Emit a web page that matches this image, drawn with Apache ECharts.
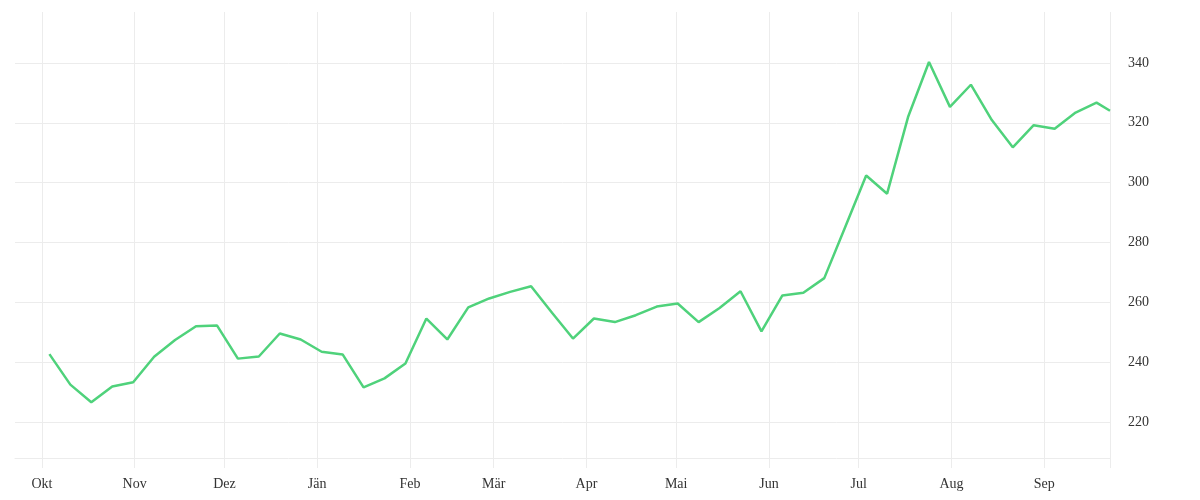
<!DOCTYPE html>
<html>
<head>
<meta charset="utf-8">
<script src="https://cdn.jsdelivr.net/npm/echarts@6/dist/echarts.min.js"></script>
<style>
  html, body { margin: 0; padding: 0; background: #ffffff; }
  #chart { width: 1200px; height: 500px; }
</style>
</head>
<body>
<div id="chart"></div>
<script>
const dates = [
  '2022-10-03','2022-10-10','2022-10-17','2022-10-24','2022-10-31',
  '2022-11-07','2022-11-14','2022-11-21','2022-11-28',
  '2022-12-05','2022-12-12','2022-12-19','2022-12-26',
  '2023-01-02','2023-01-09','2023-01-16','2023-01-23','2023-01-30',
  '2023-02-06','2023-02-13','2023-02-20','2023-02-27',
  '2023-03-06','2023-03-13','2023-03-20','2023-03-27',
  '2023-04-03','2023-04-10','2023-04-17','2023-04-24',
  '2023-05-01','2023-05-08','2023-05-15','2023-05-22','2023-05-29',
  '2023-06-05','2023-06-12','2023-06-19','2023-06-26',
  '2023-07-03','2023-07-10','2023-07-17','2023-07-24','2023-07-31',
  '2023-08-07','2023-08-14','2023-08-21','2023-08-28',
  '2023-09-04','2023-09-11','2023-09-18','2023-09-23'
];
const values = [
  242.7, 232.5, 226.6, 231.9, 233.3,
  241.8, 247.4, 252.0, 252.3,
  241.2, 241.9, 249.6, 247.6,
  243.5, 242.6, 231.6, 234.6, 239.6,
  254.6, 247.6, 258.3, 261.3,
  263.5, 265.4, 256.5, 247.9,
  254.6, 253.4, 255.7, 258.6,
  259.6, 253.4, 258.1, 263.7, 250.3,
  262.3, 263.2, 268.1, 285.2,
  302.4, 296.3, 321.9, 340.3, 325.3,
  332.7, 320.9, 311.8, 319.2,
  318.0, 323.4, 326.7, 324.0
];
const monthNames = ['Jän','Feb','Mär','Apr','Mai','Jun','Jul','Aug','Sep','Okt','Nov','Dez'];
const monthTicks = [
  '2022-10-01','2022-11-01','2022-12-01','2023-01-01','2023-02-01','2023-03-01',
  '2023-04-01','2023-05-01','2023-06-01','2023-07-01','2023-08-01','2023-09-01'
];
const yTicks = [220, 240, 260, 280, 300, 320, 340];
const xMin = '2022-09-22';
const xMax = '2023-09-23';
const yMin = 208;
const yMax = 357;

function toTs(s) {
  const p = s.split('-').map(Number);
  return new Date(p[0], p[1] - 1, p[2]).getTime();
}
const halfDay = 12 * 3600 * 1000;
const lastIdx = dates.length - 1;
const seriesData = dates.map((d, i) => [toTs(d) + (i < lastIdx ? halfDay : 0), values[i]]);
const monthTs = monthTicks.map(toTs);
const xMinTs = toTs(xMin);
const xMaxTs = toTs(xMax);

const gridColor = '#ececec';
const textStyle = { color: '#333', fontFamily: 'Liberation Serif', fontSize: 14 };

const chart = echarts.init(document.getElementById('chart'));
chart.setOption({
  animation: false,
  backgroundColor: '#ffffff',
  grid: { left: 15, right: 90, top: 12, bottom: 42, containLabel: false, outerBoundsMode: 'none' },
  xAxis: {
    type: 'value',
    min: xMinTs,
    max: xMaxTs,
    axisLine: { show: true, onZero: false, lineStyle: { color: gridColor, width: 1 } },
    axisTick: { show: true, length: 10, customValues: monthTs.concat([xMaxTs]), lineStyle: { color: gridColor, width: 1 } },
    splitLine: { show: true, lineStyle: { color: gridColor, width: 1 } },
    axisLabel: Object.assign({
      customValues: monthTs,
      margin: 19,
      formatter: function (v) { return monthNames[new Date(v).getMonth()]; }
    }, textStyle)
  },
  yAxis: {
    type: 'value',
    position: 'right',
    min: yMin,
    max: yMax,
    axisLine: { show: false },
    axisTick: { show: false, customValues: yTicks },
    splitLine: { show: true, lineStyle: { color: gridColor, width: 1 } },
    axisLabel: Object.assign({ customValues: yTicks, margin: 18, padding: [5, 0, 0, 0] }, textStyle)
  },
  series: [{
    type: 'line',
    data: seriesData,
    showSymbol: false,
    symbol: 'none',
    smooth: false,
    lineStyle: { color: '#4fd27b', width: 2.5 },
    itemStyle: { color: '#4fd27b' }
  }]
});
</script>
</body>
</html>
